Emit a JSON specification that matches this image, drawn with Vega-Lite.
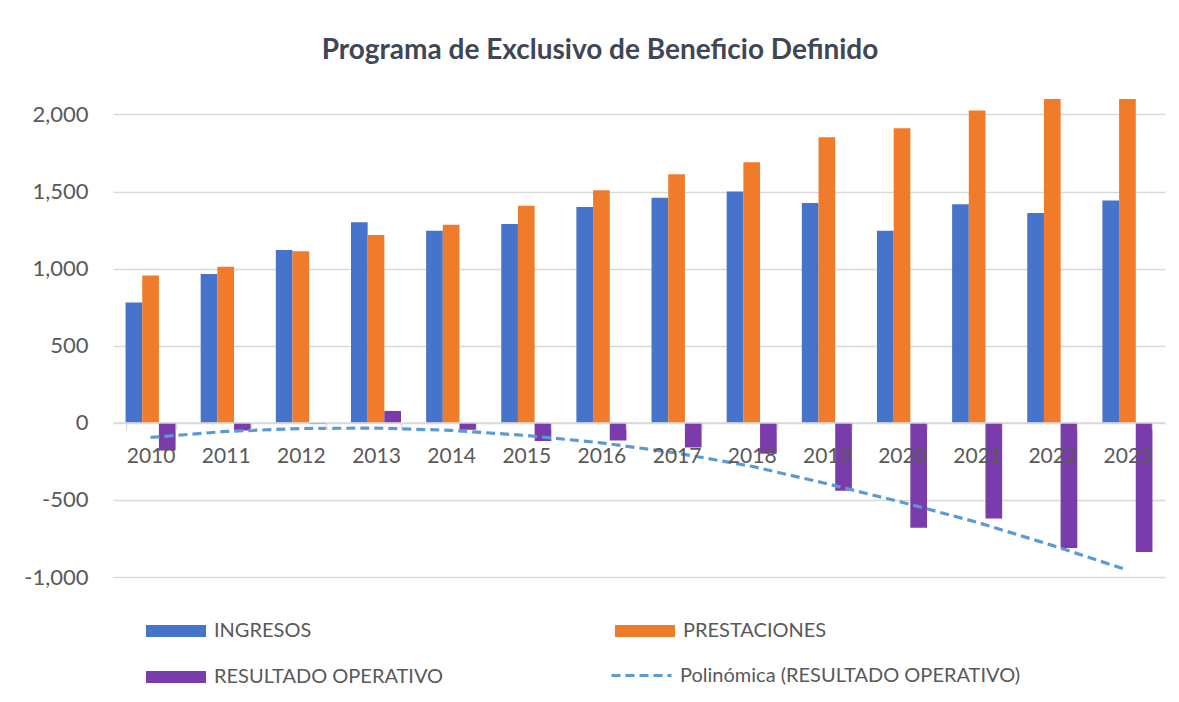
{
  "$schema": "https://vega.github.io/schema/vega-lite/v6.json",
  "width": 1052,
  "height": 478,
  "autosize": {"type": "none"},
  "padding": {"left": 113, "top": 99, "right": 14, "bottom": 125},
  "background": "white",
  "title": {
    "text": "Programa de Exclusivo de Beneficio Definido",
    "font": "Lato",
    "fontSize": 28,
    "fontWeight": "bold",
    "color": "#3f4756",
    "anchor": "middle",
    "dx": -39,
    "offset": 34
  },
  "config": {
    "view": {"stroke": null},
    "font": "Lato",
    "locale": {"number": {"decimal": ".", "thousands": ",", "grouping": [3], "currency": ["$", ""], "minus": "-"}}
  },
  "datasets": {
    "bars": [
      {"year": "2010", "serie": "INGRESOS", "value": 780},
      {"year": "2010", "serie": "PRESTACIONES", "value": 955},
      {"year": "2010", "serie": "RESULTADO OPERATIVO", "value": -180},
      {"year": "2011", "serie": "INGRESOS", "value": 965},
      {"year": "2011", "serie": "PRESTACIONES", "value": 1012},
      {"year": "2011", "serie": "RESULTADO OPERATIVO", "value": -50},
      {"year": "2012", "serie": "INGRESOS", "value": 1120},
      {"year": "2012", "serie": "PRESTACIONES", "value": 1112},
      {"year": "2012", "serie": "RESULTADO OPERATIVO", "value": -8},
      {"year": "2013", "serie": "INGRESOS", "value": 1300},
      {"year": "2013", "serie": "PRESTACIONES", "value": 1218},
      {"year": "2013", "serie": "RESULTADO OPERATIVO", "value": 77},
      {"year": "2014", "serie": "INGRESOS", "value": 1245},
      {"year": "2014", "serie": "PRESTACIONES", "value": 1285},
      {"year": "2014", "serie": "RESULTADO OPERATIVO", "value": -45},
      {"year": "2015", "serie": "INGRESOS", "value": 1290},
      {"year": "2015", "serie": "PRESTACIONES", "value": 1408},
      {"year": "2015", "serie": "RESULTADO OPERATIVO", "value": -118},
      {"year": "2016", "serie": "INGRESOS", "value": 1400},
      {"year": "2016", "serie": "PRESTACIONES", "value": 1508},
      {"year": "2016", "serie": "RESULTADO OPERATIVO", "value": -115},
      {"year": "2017", "serie": "INGRESOS", "value": 1460},
      {"year": "2017", "serie": "PRESTACIONES", "value": 1612},
      {"year": "2017", "serie": "RESULTADO OPERATIVO", "value": -160},
      {"year": "2018", "serie": "INGRESOS", "value": 1500},
      {"year": "2018", "serie": "PRESTACIONES", "value": 1690},
      {"year": "2018", "serie": "RESULTADO OPERATIVO", "value": -200},
      {"year": "2019", "serie": "INGRESOS", "value": 1425},
      {"year": "2019", "serie": "PRESTACIONES", "value": 1852},
      {"year": "2019", "serie": "RESULTADO OPERATIVO", "value": -440},
      {"year": "2020", "serie": "INGRESOS", "value": 1245},
      {"year": "2020", "serie": "PRESTACIONES", "value": 1910},
      {"year": "2020", "serie": "RESULTADO OPERATIVO", "value": -680},
      {"year": "2021", "serie": "INGRESOS", "value": 1418},
      {"year": "2021", "serie": "PRESTACIONES", "value": 2025},
      {"year": "2021", "serie": "RESULTADO OPERATIVO", "value": -620},
      {"year": "2022", "serie": "INGRESOS", "value": 1360},
      {"year": "2022", "serie": "PRESTACIONES", "value": 2172},
      {"year": "2022", "serie": "RESULTADO OPERATIVO", "value": -812},
      {"year": "2023", "serie": "INGRESOS", "value": 1442},
      {"year": "2023", "serie": "PRESTACIONES", "value": 2280},
      {"year": "2023", "serie": "RESULTADO OPERATIVO", "value": -838}
    ],
    "trend": [
      {"year": "2010", "trend": -95},
      {"year": "2011", "trend": -56},
      {"year": "2012", "trend": -37},
      {"year": "2013", "trend": -34},
      {"year": "2014", "trend": -49},
      {"year": "2015", "trend": -82},
      {"year": "2016", "trend": -130},
      {"year": "2017", "trend": -196},
      {"year": "2018", "trend": -282},
      {"year": "2019", "trend": -395},
      {"year": "2020", "trend": -515},
      {"year": "2021", "trend": -645},
      {"year": "2022", "trend": -795},
      {"year": "2023", "trend": -955}
    ]
  },
  "layer": [
    {
      "data": {"name": "bars"},
      "mark": {"type": "bar", "clip": true},
      "encoding": {
        "x": {
          "field": "year",
          "type": "nominal",
          "scale": {"paddingInner": 0.334, "paddingOuter": 0.167},
          "axis": {
            "title": null,
            "offset": -154.5,
            "zindex": 1,
            "domainColor": "#d9d9d9",
            "domainWidth": 1.3,
            "tickColor": "#d9d9d9",
            "tickWidth": 1.3,
            "tickBand": "extent",
            "tickSize": 7,
            "labelFont": "Lato",
            "labelFontSize": 21,
            "labelColor": "#595959",
            "labelPadding": 16,
            "labelAngle": 0
          }
        },
        "xOffset": {
          "field": "serie",
          "type": "nominal",
          "scale": {"domain": ["INGRESOS", "PRESTACIONES", "RESULTADO OPERATIVO"], "paddingInner": 0, "paddingOuter": 0}
        },
        "y": {
          "field": "value",
          "type": "quantitative",
          "scale": {"domain": [-1000, 2100], "nice": false, "zero": false},
          "axis": {
            "title": null,
            "values": [-1000, -500, 0, 500, 1000, 1500, 2000],
            "domain": false,
            "ticks": false,
            "gridColor": "#d9d9d9",
            "gridWidth": 1.3,
            "labelFont": "Lato",
            "labelFontSize": 22,
            "labelColor": "#595959",
            "labelPadding": 25,
            "format": ",.0f"
          }
        },
        "color": {
          "field": "serie",
          "type": "nominal",
          "scale": {
            "domain": ["INGRESOS", "PRESTACIONES", "RESULTADO OPERATIVO"],
            "range": ["#4574ca", "#ef7b2b", "#7a3bab"]
          },
          "legend": {
            "title": null,
            "orient": "none",
            "direction": "horizontal",
            "legendX": 32,
            "legendY": 501,
            "columns": 2,
            "columnPadding": 170,
            "rowPadding": 5,
            "padding": 0,
            "labelFont": "Lato",
            "labelFontSize": 20,
            "labelColor": "#595959",
            "labelLimit": 600,
            "labelOffset": 7,
            "symbolSize": 3600,
            "symbolType": "M-1,-0.2H1V0.2H-1Z",
            "symbolOpacity": 1
          }
        }
      }
    },
    {
      "data": {"name": "trend"},
      "mark": {"type": "line", "color": "#5b9bd5", "strokeWidth": 3.2, "clip": true},
      "encoding": {
        "x": {"field": "year", "type": "nominal"},
        "y": {"field": "trend", "type": "quantitative"},
        "strokeDash": {
          "datum": "Polinómica (RESULTADO OPERATIVO)",
          "scale": {"domain": ["Polinómica (RESULTADO OPERATIVO)"], "range": [[9, 5]]},
          "legend": {
            "title": null,
            "orient": "none",
            "legendX": 497,
            "legendY": 545,
            "padding": 0,
            "labelFont": "Lato",
            "labelFontSize": 20,
            "labelColor": "#595959",
            "labelLimit": 600,
            "labelOffset": 7,
            "symbolType": "stroke",
            "symbolSize": 3600,
            "symbolStrokeColor": "#5b9bd5",
            "symbolStrokeWidth": 3,
            "symbolOpacity": 1
          }
        }
      }
    }
  ]
}
